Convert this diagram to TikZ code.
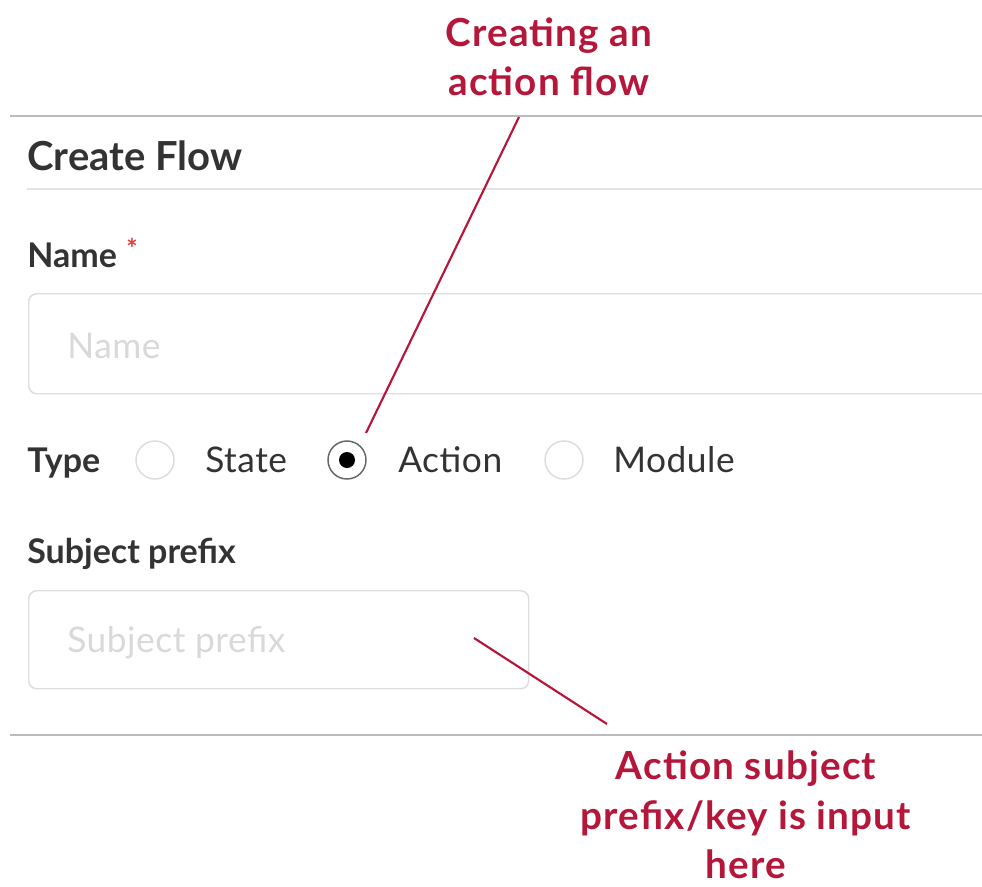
\documentclass[tikz,border=0pt]{standalone}
\usepackage{fontspec}
\setmainfont{Lato}
\newfontfamily\regfont[LetterSpace=1.5]{Lato}
\newfontfamily\annofont[LetterSpace=3]{Lato}
\definecolor{annot}{HTML}{B5173B}
\definecolor{labeltxt}{HTML}{333333}
\definecolor{ph}{HTML}{D9D9D9}
\definecolor{sepdark}{HTML}{BBBBBB}
\definecolor{seplight}{HTML}{E4E4E4}
\definecolor{boxline}{HTML}{DDDDDD}
\definecolor{req}{HTML}{E53935}
\tikzset{
  sepline/.style={draw=#1, line width=1.1pt},
  fieldlabel/.style={anchor=base west, inner sep=0pt, text=labeltxt, font=\fontsize{25.5}{30}\selectfont\bfseries},
  optlabel/.style={anchor=base west, inner sep=0pt, text=labeltxt, font=\regfont\fontsize{26.5}{30}\selectfont},
  placeholder/.style={anchor=base west, inner sep=0pt, text=ph, font=\regfont\fontsize{26.5}{30}\selectfont},
  inputbox/.style={draw=boxline, line width=1.1pt, rounded corners=6pt, anchor=north west, inner sep=0pt},
  radiobtn/.style={circle, draw=#1, line width=1.1pt, minimum size=28.5pt, inner sep=0pt},
  annotation/.style={text=annot, align=center, inner sep=0pt, font=\annofont\fontsize{29}{37}\selectfont\bfseries},
  pointer/.style={draw=annot, line width=1.6pt}
}
\begin{document}
\begin{tikzpicture}[x=0.75pt,y=-0.75pt]
\useasboundingbox (0,0) rectangle (982,886);
\fill[white] (0,0) rectangle (982,886);
% separators
\draw[sepline=sepdark] (10,116) -- (982,116);
\draw[sepline=seplight] (27,189) -- (982,189);
\draw[sepline=sepdark] (10,735) -- (982,735);
% title
\node[fieldlabel, font=\fontsize{30}{34}\selectfont\bfseries] (title) at (27,170) {Create Flow};
% name field
\node[fieldlabel] (namelbl) at (27,267) {Name};
\node[anchor=center, inner sep=0pt, text=req, font=\fontsize{20}{24}\selectfont\bfseries] (star) at (132,248) {*};
\node[inputbox, minimum width=730pt, minimum height=75pt] (namebox) at (28,293) {};
\node[placeholder] (nameph) at (67,358) {Name};
% type row
\node[fieldlabel] (typelbl) at (27,472) {Type};
\node[radiobtn=boxline] (rstate) at (155,460) {};
\node[optlabel] (lstate) at (205,472) {State};
\node[radiobtn=gray!80!black] (raction) at (347,460) {};
\fill[black] (raction.center) circle (6pt);
\node[optlabel] (laction) at (398,472) {Action};
\node[radiobtn=boxline] (rmodule) at (564,460) {};
\node[optlabel] (lmodule) at (613,472) {Module};
% subject prefix
\node[fieldlabel] (subjlbl) at (27,563) {Subject prefix};
\node[inputbox, minimum width=375pt, minimum height=73.5pt] (subjbox) at (28,590) {};
\node[placeholder] (subjph) at (67,652) {Subject prefix};
% annotations
\node[annotation] (anno1) at (549,57) {Creating an\\action flow};
\node[annotation] (anno2) at (746,815) {Action subject\\prefix/key is input\\here};
\coordinate (p1s) at (519,117);
\coordinate (p1e) at (366,433);
\coordinate (p2s) at (474,638);
\coordinate (p2e) at (607,724);
\draw[pointer] (p1s) -- (p1e);
\draw[pointer] (p2s) -- (p2e);
\end{tikzpicture}
\end{document}
